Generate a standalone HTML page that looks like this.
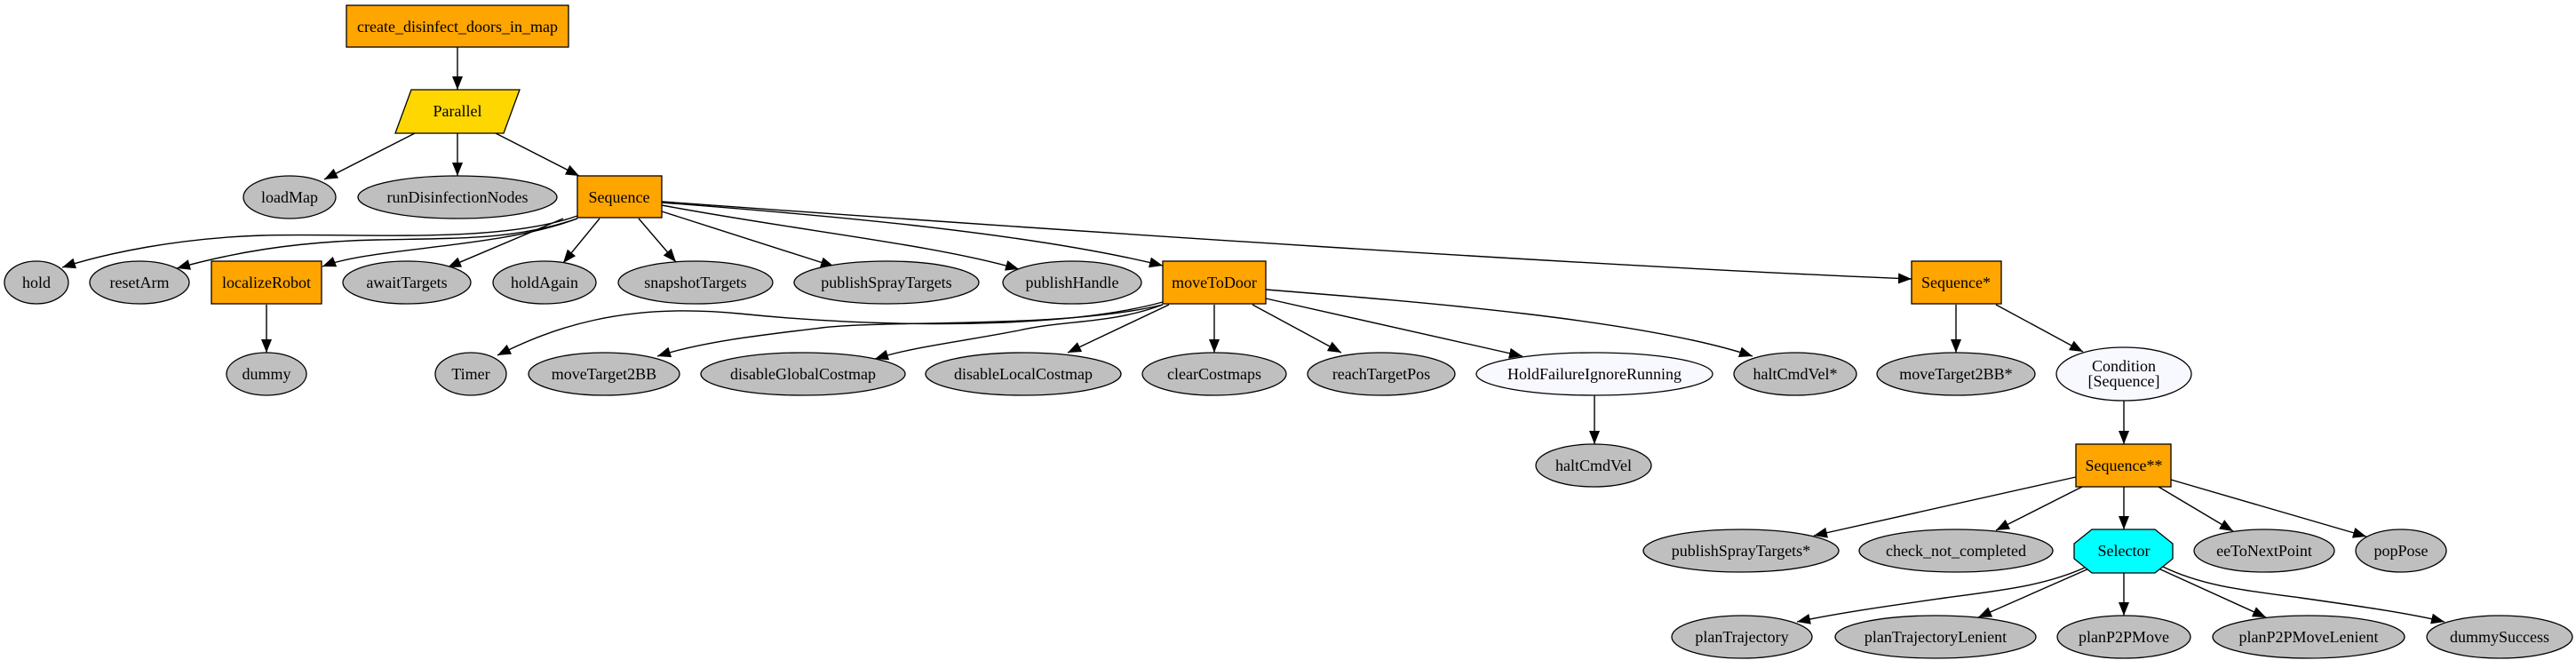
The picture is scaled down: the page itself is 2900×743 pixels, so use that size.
<!DOCTYPE html>
<html><head><meta charset="utf-8"><style>
html,body{margin:0;padding:0;background:#fff;}
svg{display:block;}
text{font-family:"Liberation Serif",serif;font-size:18px;text-anchor:middle;dominant-baseline:central;fill:#000;}
.e{fill:#bfbfbf;stroke:#000;stroke-width:1.3;}
.w{fill:#f8f8ff;stroke:#000;stroke-width:1.3;}
.b{fill:#ffa500;stroke:#000;stroke-width:1.3;}
.l{fill:none;stroke:#000;stroke-width:1.4;marker-end:url(#a);}
</style></head><body>
<svg width="2900" height="743" viewBox="0 0 2900 743" xmlns="http://www.w3.org/2000/svg">
<defs><marker id="a" markerUnits="userSpaceOnUse" markerWidth="16" markerHeight="12" refX="15" refY="6" orient="auto"><path d="M0,0 L15,6 L0,12 z" fill="#000"/></marker></defs>

<!-- edges -->
<path class="l" d="M515,53 L515,101"/>
<path class="l" d="M467,150 L365,202"/>
<path class="l" d="M515,150 L515,198"/>
<path class="l" d="M558,150 L652,198"/>
<path class="l" d="M650,243 C560,275 400,262 296,265 C200,268 120,285 70,301"/>
<path class="l" d="M650,246 C580,270 520,268 425,270 C330,272 260,285 199,302"/>
<path class="l" d="M650,246 C560,280 420,278 363,300"/>
<path class="l" d="M634,246 L504,301"/>
<path class="l" d="M675,246 L634,296"/>
<path class="l" d="M719,246 L761,295"/>
<path class="l" d="M745,238 L939,300"/>
<path class="l" d="M745,231 C900,260 1050,275 1147,303"/>
<path class="l" d="M745,228 C900,240 1150,260 1309,299"/>
<path class="l" d="M745,227 C1200,260 1800,300 2152,314"/>
<path class="l" d="M300,343 L300,397"/>
<path class="l" d="M1309,340 C1200,370 1000,370 832,353 C700,340 620,370 560,400"/>
<path class="l" d="M1309,343 C1200,370 1000,360 925,369 C850,378 790,385 740,401"/>
<path class="l" d="M1309,343 C1250,365 1200,360 1147,372 C1080,385 1030,390 985,404"/>
<path class="l" d="M1316,343 L1202,397"/>
<path class="l" d="M1367,343 L1367,397"/>
<path class="l" d="M1410,343 L1510,397"/>
<path class="l" d="M1425,336 L1714,401"/>
<path class="l" d="M1425,326 C1600,340 1850,360 1973,401"/>
<path class="l" d="M1795,445 L1795,500"/>
<path class="l" d="M2202,343 L2202,397"/>
<path class="l" d="M2247,343 L2345,396"/>
<path class="l" d="M2391,451 L2391,500"/>
<path class="l" d="M2337,537 L2042,603"/>
<path class="l" d="M2344,548 L2247,597"/>
<path class="l" d="M2391,548 L2391,596"/>
<path class="l" d="M2430,548 L2514,598"/>
<path class="l" d="M2444,540 L2664,604"/>
<path class="l" d="M2347,639 C2300,660 2250,665 2190,673 C2120,683 2070,690 2023,700"/>
<path class="l" d="M2352,640 L2227,695"/>
<path class="l" d="M2391,645 L2391,693"/>
<path class="l" d="M2430,640 L2551,695"/>
<path class="l" d="M2435,638 C2480,660 2530,665 2590,673 C2660,683 2710,690 2752,700"/>

<!-- nodes -->
<rect class="b" x="390" y="6" width="250" height="47"/><text x="515" y="30">create_disinfect_doors_in_map</text>
<polygon points="463,101 585,101 567,150 445,150" fill="#ffd700" stroke="#000" stroke-width="1.3"/><text x="515" y="125">Parallel</text>
<ellipse class="e" cx="326" cy="222" rx="52" ry="24"/><text x="326" y="222">loadMap</text>
<ellipse class="e" cx="515" cy="222" rx="112" ry="24"/><text x="515" y="222">runDisinfectionNodes</text>
<rect class="b" x="650" y="198" width="95" height="47"/><text x="697" y="222">Sequence</text>

<ellipse class="e" cx="41" cy="318" rx="36" ry="24"/><text x="41" y="318">hold</text>
<ellipse class="e" cx="157" cy="318" rx="56" ry="24"/><text x="157" y="318">resetArm</text>
<rect class="b" x="238" y="294" width="124" height="48"/><text x="300" y="318">localizeRobot</text>
<ellipse class="e" cx="458" cy="318" rx="72" ry="24"/><text x="458" y="318">awaitTargets</text>
<ellipse class="e" cx="613" cy="318" rx="58" ry="24"/><text x="613" y="318">holdAgain</text>
<ellipse class="e" cx="783" cy="318" rx="87" ry="24"/><text x="783" y="318">snapshotTargets</text>
<ellipse class="e" cx="998" cy="318" rx="104" ry="24"/><text x="998" y="318">publishSprayTargets</text>
<ellipse class="e" cx="1207" cy="318" rx="78" ry="24"/><text x="1207" y="318">publishHandle</text>
<rect class="b" x="1309" y="294" width="116" height="48"/><text x="1367" y="318">moveToDoor</text>
<rect class="b" x="2152" y="294" width="101" height="48"/><text x="2202" y="318">Sequence*</text>

<ellipse class="e" cx="300" cy="421" rx="45" ry="24"/><text x="300" y="421">dummy</text>
<ellipse class="e" cx="530" cy="421" rx="40" ry="24"/><text x="530" y="421">Timer</text>
<ellipse class="e" cx="680" cy="421" rx="85" ry="24"/><text x="680" y="421">moveTarget2BB</text>
<ellipse class="e" cx="904" cy="421" rx="115" ry="24"/><text x="904" y="421">disableGlobalCostmap</text>
<ellipse class="e" cx="1152" cy="421" rx="110" ry="24"/><text x="1152" y="421">disableLocalCostmap</text>
<ellipse class="e" cx="1367" cy="421" rx="81" ry="24"/><text x="1367" y="421">clearCostmaps</text>
<ellipse class="e" cx="1555" cy="421" rx="83" ry="24"/><text x="1555" y="421">reachTargetPos</text>
<ellipse class="w" cx="1795" cy="421" rx="133" ry="24"/><text x="1795" y="421">HoldFailureIgnoreRunning</text>
<ellipse class="e" cx="2021" cy="421" rx="69" ry="24"/><text x="2021" y="421">haltCmdVel*</text>
<ellipse class="e" cx="2202" cy="421" rx="89" ry="24"/><text x="2202" y="421">moveTarget2BB*</text>
<ellipse class="w" cx="2391" cy="421" rx="76" ry="30"/><text x="2391" y="412">Condition</text><text x="2391" y="429">[Sequence]</text>

<ellipse class="e" cx="1794" cy="524" rx="65" ry="24"/><text x="1794" y="524">haltCmdVel</text>
<rect class="b" x="2337" y="500" width="107" height="48"/><text x="2391" y="524">Sequence**</text>

<ellipse class="e" cx="1960" cy="620" rx="110" ry="24"/><text x="1960" y="620">publishSprayTargets*</text>
<ellipse class="e" cx="2202" cy="620" rx="109" ry="24"/><text x="2202" y="620">check_not_completed</text>
<polygon points="2355,596 2426,596 2446,612 2446,629 2426,645 2355,645 2335,629 2335,612" fill="#00ffff" stroke="#000" stroke-width="1.3"/><text x="2391" y="620">Selector</text>
<ellipse class="e" cx="2549" cy="620" rx="79" ry="24"/><text x="2549" y="620">eeToNextPoint</text>
<ellipse class="e" cx="2703" cy="620" rx="51" ry="24"/><text x="2703" y="620">popPose</text>

<ellipse class="e" cx="1961" cy="717" rx="79" ry="24"/><text x="1961" y="717">planTrajectory</text>
<ellipse class="e" cx="2179" cy="717" rx="113" ry="24"/><text x="2179" y="717">planTrajectoryLenient</text>
<ellipse class="e" cx="2391" cy="717" rx="75" ry="24"/><text x="2391" y="717">planP2PMove</text>
<ellipse class="e" cx="2599" cy="717" rx="108" ry="24"/><text x="2599" y="717">planP2PMoveLenient</text>
<ellipse class="e" cx="2814" cy="717" rx="82" ry="24"/><text x="2814" y="717">dummySuccess</text>
</svg>
</body></html>
